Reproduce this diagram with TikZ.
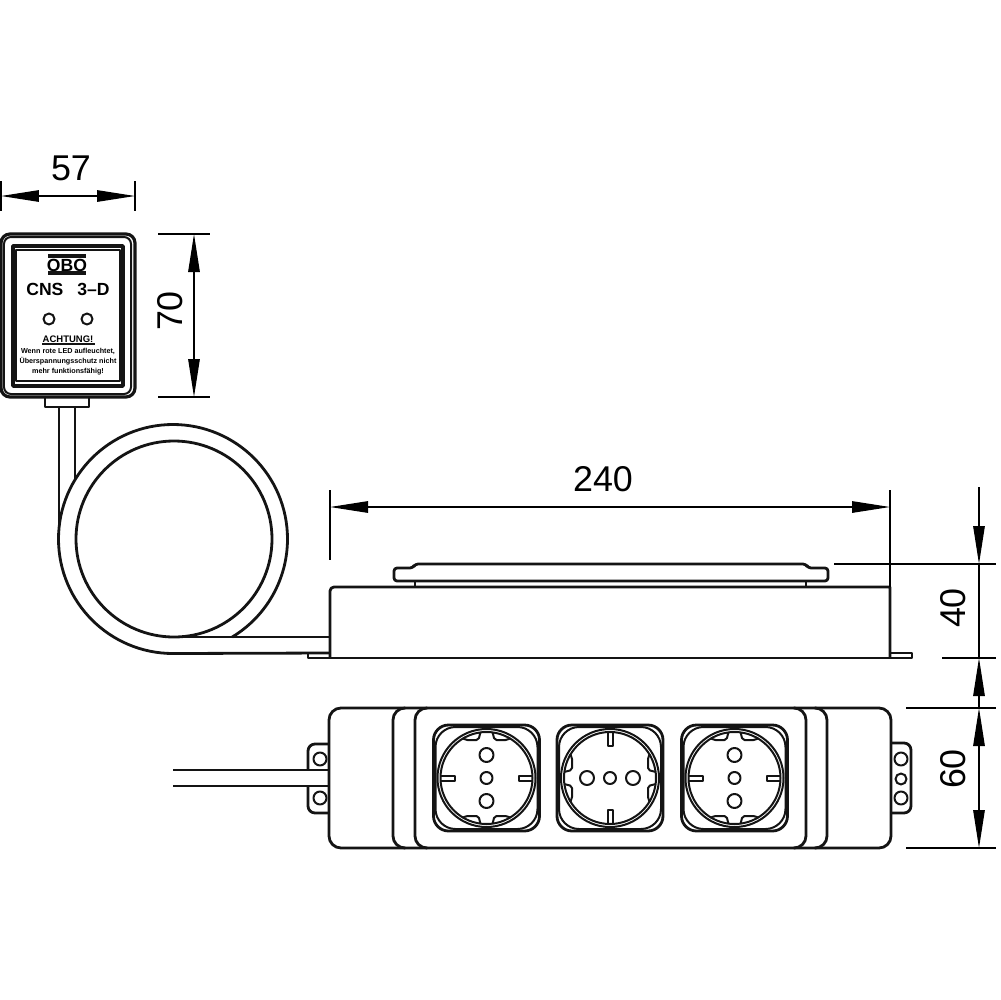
\documentclass[tikz,border=0pt]{standalone}
\usepackage{fontspec}
\setmainfont{Liberation Sans}
\usetikzlibrary{arrows.meta}

\begin{document}
\begin{tikzpicture}[
	x=0.1mm,
	y=-0.1mm,
	line join=round,
	part/.style={draw=black!92, line width=0.28mm},
	thinpart/.style={draw=black!92, line width=0.2mm},
	dimline/.style={draw=black, line width=0.13mm},
	dimtip/.style={-{Triangle[length=3.8mm,width=1.15mm]}},
	dimboth/.style={{Triangle[length=3.8mm,width=1.15mm]}-{Triangle[length=3.8mm,width=1.15mm]}},
	dimtext/.style={font=\fontsize{10.2}{12}\selectfont, inner sep=0pt},
	boxtext/.style={font=\fontsize{5}{6}\selectfont\bfseries, inner sep=0pt},
	socket/.pic={
		\draw[part, rounded corners=1.5mm] (-53,-53) rectangle (53,53);
		\draw[thinpart, rounded corners=2mm] (-51,-51) rectangle (51,51);
		\draw[thinpart] (0,0) circle[radius=49];
		\draw[thinpart] (0,0) circle[radius=46];
		\draw[thinpart] (0,-23) circle[radius=7];
		\draw[thinpart] (0,0) circle[radius=6];
		\draw[thinpart] (0,23) circle[radius=7];
		\foreach \sa in {-1,1} {
			\draw[thinpart] (\sa*46,-2.5) -- (\sa*32,-2.5) -- (\sa*32,2.5) -- (\sa*46,2.5);
			\foreach \sb in {-1,1}
				\draw[thinpart, rounded corners=0.2mm] (\sa*24,\sb*40) -- (\sa*21,\sb*38) -- (\sa*8,\sb*38) -- (\sa*6,\sb*46);
		}
	}
	]
	\useasboundingbox (0,0) rectangle (1000,1000);

	% control box
	\draw[part, line width=0.32mm, rounded corners=0.9mm] (1,234) rectangle (135,397);
	\draw[thinpart, rounded corners=0.7mm] (4,237) rectangle (131,394);
	\draw[part, line width=0.36mm] (13,246) rectangle (123,386);
	\draw[thinpart, line width=0.13mm] (16,250) rectangle (120,381);
	\node[boxtext] (logo) at (67,265) {OBO};
	\draw[part, line width=0.4mm] (48,256) -- (86,256);
	\draw[part, line width=0.4mm] (48,273) -- (86,273);
	\node[boxtext] (type) at (68,289) {CNS\hspace{1.4mm}3–D};
	\draw[thinpart] (49,319) circle[radius=5.5];
	\draw[thinpart] (87,319) circle[radius=5.5];
	\node[boxtext, font=\fontsize{2.7}{3}\selectfont\bfseries] (warn) at (68,339) {ACHTUNG!};
	\draw[thinpart, line width=0.15mm] (42,344) -- (95,344);
	\node[boxtext, align=center, font=\fontsize{2.05}{2.85}\selectfont\bfseries] (warntext) at (68,362) {Wenn rote LED aufleuchtet,\\Überspannungsschutz nicht\\mehr funktionsfähig!};

	% cable coil
	\draw[part] (45,397) rectangle (89,407);
	\draw[part] (59,407) -- (59,526);
	\draw[part] (75,407) -- (75,480);
	\draw[part] (174,539) circle[radius=98];
	\draw[part] (330,653) -- (173,653.5) arc[start angle=90, end angle=418.9, radius=114.5];
	\draw[part] (163,637) -- (330,637);

	% side view
	\draw[part] (308,653) -- (308,658) -- (912,658) -- (912,653) -- (890,653);
	\draw[part] (330,658) [rounded corners=0.4mm] -- (330,587) [sharp corners] -- (890,587) -- (890,658);
	\draw[part, rounded corners=0.3mm] (394,581) -- (394,568) -- (413,568) -- (415,564) -- (806,564) -- (808,568) -- (828,568) -- (828,581) -- cycle;
	\draw[part] (415,581) -- (415,587);
	\draw[part] (806,581) -- (806,587);

	% top view
	\draw[part, rounded corners=1.2mm] (329,708) rectangle (891,848);
	\foreach \xa/\xb in {393/404, 415/426, 806/795, 827/816}
		\draw[part, rounded corners=1.2mm] (\xb,708) -- (\xa,708) -- (\xa,848) -- (\xb,848);
	\pic at (486.5,778) {socket};
	\pic[rotate=90] at (610,778) {socket};
	\pic at (734.5,778) {socket};

	% lugs and cable
	\draw[part, rounded corners=0.7mm] (329,744) -- (308,744) -- (308,770);
	\draw[part, rounded corners=0.7mm] (308,786) -- (308,813) -- (329,813);
	\draw[part] (173,770) -- (329,770);
	\draw[part] (173,786) -- (329,786);
	\draw[thinpart] (320,759) circle[radius=6.5];
	\draw[thinpart] (320,798) circle[radius=6.5];
	\draw[part, rounded corners=0.7mm] (891,743) -- (911,743) -- (911,813) -- (891,813);
	\draw[thinpart] (901,759) circle[radius=6.5];
	\draw[thinpart] (901,779) circle[radius=5.5];
	\draw[thinpart] (901,798) circle[radius=6.5];

	% dimension 57
	\draw[dimline] (1,181) -- (1,211);
	\draw[dimline] (135,181) -- (135,211);
	\coordinate (wa) at (1,196);
	\coordinate (wb) at (135,196);
	\draw[dimline, dimboth] (wa) -- (wb);
	\node[dimtext] (dima) at (71,168) {57};

	% dimension 70
	\draw[dimline] (158,234) -- (210,234);
	\draw[dimline] (158,397) -- (210,397);
	\coordinate (ha) at (194,234);
	\coordinate (hb) at (194,397);
	\draw[dimline, dimboth] (ha) -- (hb);
	\node[dimtext, rotate=90] (dimb) at (170,311) {70};

	% dimension 240
	\draw[dimline] (330,490) -- (330,560);
	\draw[dimline] (890,490) -- (890,587);
	\coordinate (la) at (330,507);
	\coordinate (lb) at (890,507);
	\draw[dimline, dimboth] (la) -- (lb);
	\node[dimtext] (dimc) at (603,479) {240};

	% dimensions 40 and 60
	\draw[dimline] (834,564) -- (996,564);
	\draw[dimline] (942,658) -- (996,658);
	\draw[dimline] (906,708) -- (996,708);
	\draw[dimline] (906,848) -- (996,848);
	\coordinate (va) at (979,487);
	\coordinate (vb) at (979,564);
	\coordinate (vc) at (979,658);
	\coordinate (vd) at (979,708);
	\coordinate (ve) at (979,848);
	\draw[dimline, dimtip] (va) -- (vb);
	\draw[dimline] (vb) -- (vc);
	\draw[dimline, dimtip] (vd) -- (vc);
	\draw[dimline, dimboth] (vd) -- (ve);
	\node[dimtext, rotate=90] (dimd) at (953,608) {40};
	\node[dimtext, rotate=90] (dime) at (953,769) {60};

\end{tikzpicture}
\end{document}
